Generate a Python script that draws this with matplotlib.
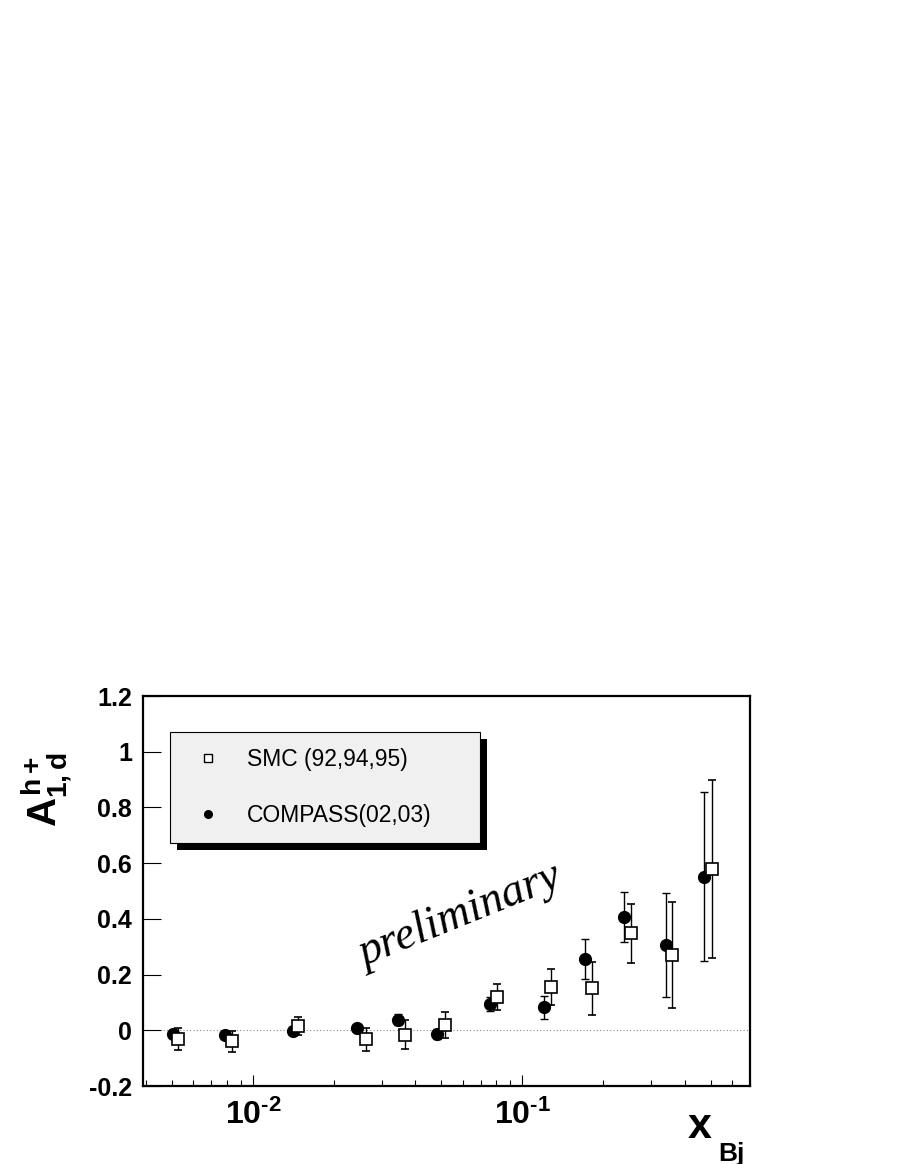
import matplotlib
matplotlib.use("Agg")
import matplotlib.pyplot as plt
from matplotlib.lines import Line2D
from matplotlib.patches import Rectangle
from matplotlib.transforms import IdentityTransform
from matplotlib.ticker import FixedLocator, NullFormatter, LogLocator

plt.rcParams['font.family'] = ['Liberation Sans', 'DejaVu Sans']
plt.rcParams['mathtext.fontset'] = 'custom'
plt.rcParams['mathtext.rm'] = 'Liberation Sans:bold'
plt.rcParams['mathtext.it'] = 'Liberation Sans:bold'
plt.rcParams['mathtext.bf'] = 'Liberation Sans:bold'

# COMPASS (02,03) - filled circles
compass_x = [0.00504, 0.00783, 0.0141, 0.0243, 0.0344, 0.0483, 0.0757, 0.120, 0.171, 0.238, 0.340, 0.472]
compass_y = [-0.015, -0.017, -0.004, 0.010, 0.038, -0.012, 0.093, 0.082, 0.255, 0.408, 0.307, 0.552]
compass_err = [0.012, 0.010, 0.008, 0.012, 0.020, 0.018, 0.025, 0.042, 0.071, 0.090, 0.186, 0.305]

# SMC (92,94,95) - open squares
smc_x = [0.00526, 0.00838, 0.01472, 0.0262, 0.0367, 0.0514, 0.0808, 0.128, 0.1816, 0.2535, 0.3594, 0.506]
smc_y = [-0.030, -0.040, 0.015, -0.033, -0.016, 0.020, 0.120, 0.155, 0.150, 0.348, 0.270, 0.579]
smc_err = [0.040, 0.038, 0.032, 0.042, 0.052, 0.047, 0.047, 0.064, 0.094, 0.105, 0.190, 0.320]

y_ticks = [-0.2, 0, 0.2, 0.4, 0.6, 0.8, 1.0, 1.2]
y_tick_labels = ['-0.2', '0', '0.2', '0.4', '0.6', '0.8', '1', '1.2']
x_ticks = [0.01, 0.1]
x_tick_labels = [r'$10^{\text{-}2}$', r'$10^{\text{-}1}$']

fig = plt.figure(figsize=(9, 11.64), dpi=100)
ax = fig.add_axes([143 / 900, 1 - 1086 / 1164, 607 / 900, 390 / 1164])

ax.axhline(0, color='0.55', lw=0.8, ls=(0, (1, 2)), zorder=1)

ax.errorbar(compass_x, compass_y, yerr=compass_err, fmt='o', color='black',
            ms=8.5, elinewidth=1.0, capsize=3, capthick=1.0, zorder=3)
ax.errorbar(smc_x, smc_y, yerr=smc_err, fmt='s', color='black', mfc='white',
            mec='black', mew=1.2, ms=8.5, elinewidth=1.0, capsize=3, capthick=1.0, zorder=3)

ax.set_xscale('log')
ax.set_xlim(0.0039, 0.70)
ax.set_ylim(-0.2, 1.2)

ax.set_yticks(y_ticks)
ax.set_yticklabels(y_tick_labels)
ax.xaxis.set_major_locator(FixedLocator(x_ticks))
ax.set_xticklabels(x_tick_labels)
ax.xaxis.set_minor_locator(LogLocator(base=10, subs=range(2, 10)))
ax.xaxis.set_minor_formatter(NullFormatter())

ax.tick_params(axis='y', which='major', direction='in', length=13, width=0.8,
               labelsize=18, pad=8, right=False)
ax.tick_params(axis='x', which='major', direction='in', length=8, width=0.8,
               labelsize=23, pad=10, top=False)
ax.tick_params(axis='x', which='minor', direction='in', length=4.5, width=0.8, top=False)
for lab in ax.get_yticklabels():
    lab.set_fontweight('bold')
for sp in ax.spines.values():
    sp.set_linewidth(1.6)

# axis titles
fig.text(688 / 900, 1 - 1138 / 1164, 'x', fontsize=31, fontweight='bold',
         ha='left', va='baseline')
fig.text(718 / 900, 1 - 1161 / 1164, 'Bj', fontsize=19, fontweight='bold',
         ha='left', va='baseline')
fig.text(46 / 900, 1 - 790 / 1164, r'$A^{h+}_{1,d}$', fontsize=29,
         rotation=90, ha='center', va='center')

# preliminary stamp
fig.text(460 / 900, 1 - 916 / 1164, 'preliminary', fontsize=33,
         family='Liberation Serif', style='italic', rotation=22,
         ha='center', va='center')

# legend
handles = [
    Line2D([], [], marker='s', ls='none', mfc='white', mec='black', mew=1.0, ms=6),
    Line2D([], [], marker='o', ls='none', color='black', ms=5.5),
]
labels = ['SMC (92,94,95)', 'COMPASS(02,03)']
x0 = (170 - 143) / 607
x1 = (480 - 143) / 607
ytop = (1086 - 732) / 390
leg = ax.legend(handles, labels, loc='upper left', bbox_to_anchor=(x0, 0, x1 - x0, ytop),
                mode='expand', fontsize=16.5, frameon=True, fancybox=False,
                edgecolor='black', facecolor='#f0f0f0', framealpha=1,
                borderpad=0.7, borderaxespad=0, handlelength=1.9, handletextpad=0.75,
                labelspacing=1.45)
leg.get_frame().set_linewidth(0.8)
leg.set_zorder(5)

fig.canvas.draw()
bb = leg.get_window_extent()
shadow = Rectangle((bb.x0 + 7, bb.y0 - 7), bb.width, bb.height,
                   facecolor='black', edgecolor='none', zorder=4)
ax.add_artist(shadow)
shadow.set_transform(IdentityTransform())

fig.savefig('out.png', dpi=100)
